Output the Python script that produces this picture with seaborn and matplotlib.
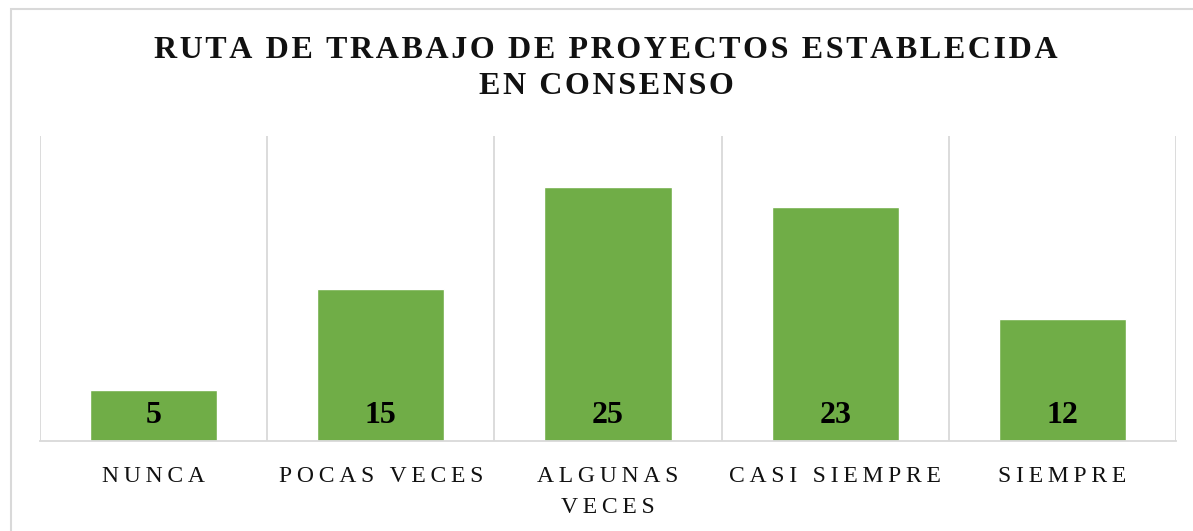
import matplotlib
matplotlib.use("Agg")
import matplotlib.pyplot as plt
from matplotlib.patches import Rectangle
import seaborn as sns
import pandas as pd

categories = ["NUNCA", "POCAS VECES", "ALGUNAS\nVECES", "CASI SIEMPRE", "SIEMPRE"]
values = [5, 15, 25, 23, 12]
title_lines = ["RUTA DE TRABAJO DE PROYECTOS ESTABLECIDA", "EN CONSENSO"]

BAR_COLOR = "#70AD47"
GRID_COLOR = "#D9D9D9"

sns.set_theme(style="white")
plt.rcParams["font.family"] = ["Liberation Serif", "DejaVu Serif"]


def spaced(text, sep="\u200a"):
    """Open up letter spacing by inserting a narrow space between characters."""
    return "\n".join(sep.join(line) for line in text.split("\n"))


df = pd.DataFrame({"categoria": categories, "valor": values})

fig = plt.figure(figsize=(11.93, 5.31), dpi=100)
ax = fig.add_axes([40 / 1193, 1 - 441 / 531, (1176 - 40) / 1193, (441 - 136) / 531])

sns.barplot(data=df, x="categoria", y="valor", color=BAR_COLOR, width=0.56,
            saturation=1, ax=ax)

ax.set_ylim(0, 30)
ax.set_xlim(-0.5, len(categories) - 0.5)
ax.set_yticks([])
ax.set_xlabel("")
ax.set_ylabel("")

# vertical separators between categories
ax.set_xticks([i - 0.5 for i in range(len(categories) + 1)], minor=True)
ax.grid(True, which="minor", axis="x", color=GRID_COLOR, linewidth=1.3)
ax.grid(False, which="major")
ax.tick_params(axis="x", which="both", length=0)

for side in ["top", "right", "left"]:
    ax.spines[side].set_visible(False)
ax.spines["bottom"].set_color(GRID_COLOR)
ax.spines["bottom"].set_linewidth(1.3)

ax.set_xticks(range(len(categories)))
ax.set_xticklabels([spaced(c, "\u2009") for c in categories], fontsize=17,
                   color="#111111", linespacing=1.6)
ax.tick_params(axis="x", which="major", pad=18)

# value labels near the base of each bar
for i, v in enumerate(values):
    ax.annotate(str(v), xy=(i, 0), xytext=(0, 18.5), textcoords="offset points",
                ha="center", va="center", fontsize=23, fontweight="bold",
                color="black")

title_x = 606 / 1193
fig.text(title_x, 1 - 50 / 531, spaced(title_lines[0], "\u200a"), ha="center",
         va="center", fontsize=23, fontweight="bold", color="#111111")
fig.text(title_x, 1 - 87 / 531, spaced(title_lines[1], "\u200a"), ha="center",
         va="center", fontsize=23, fontweight="bold", color="#111111")

# chart frame
fig.patches.append(Rectangle((11 / 1193, -0.1), 1.2, 1 - 9 / 531 + 0.1,
                             transform=fig.transFigure, fill=False,
                             edgecolor=GRID_COLOR, linewidth=1.5))

fig.savefig("out.png", dpi=100)
